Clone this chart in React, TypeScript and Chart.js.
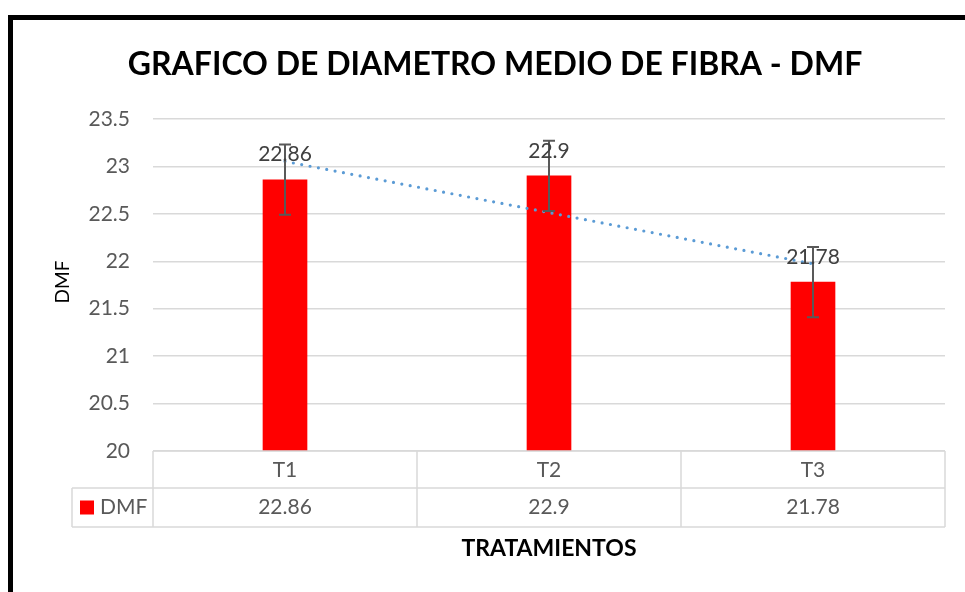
import React, { useEffect, useRef } from 'react';
import { Chart, registerables } from 'chart.js';

Chart.register(...registerables);

const chartTitle = 'GRAFICO DE DIAMETRO MEDIO DE FIBRA - DMF';
const xAxisTitle = 'TRATAMIENTOS';
const yAxisTitle = 'DMF';
const seriesName = 'DMF';
const categories = ['T1', 'T2', 'T3'];
const dmfValues = [22.86, 22.9, 21.78];
const errorMargins = [0.37, 0.37, 0.37];
const yMin = 20;
const yMax = 23.5;
const yStep = 0.5;

const FONT = 'Lato, "Open Sans", sans-serif';

function linearTrend(vals: number[]): number[] {
  const n = vals.length;
  const xs = vals.map((_, i) => i + 1);
  const mx = xs.reduce((a, b) => a + b, 0) / n;
  const my = vals.reduce((a, b) => a + b, 0) / n;
  let num = 0;
  let den = 0;
  for (let i = 0; i < n; i++) {
    num += (xs[i] - mx) * (vals[i] - my);
    den += (xs[i] - mx) * (xs[i] - mx);
  }
  const slope = num / den;
  return xs.map((xv) => my + slope * (xv - mx));
}

export default function App() {
  const ref = useRef<HTMLCanvasElement>(null);

  useEffect(() => {
    document.body.style.margin = '0';
    const canvas = ref.current;
    if (!canvas) return;
    const trend = linearTrend(dmfValues);

    const overlay = {
      id: 'excelOverlay',
      beforeDraw(chart: any) {
        const { ctx, width, height } = chart;
        ctx.save();
        ctx.fillStyle = '#ffffff';
        ctx.fillRect(0, 0, width, height);
        ctx.restore();
      },
      afterDatasetsDraw(chart: any) {
        const { ctx } = chart;
        const x = chart.scales.x;
        const y = chart.scales.y;
        const meta = chart.getDatasetMeta(0);
        ctx.save();
        // error bars
        ctx.strokeStyle = '#595959';
        ctx.lineWidth = 2;
        dmfValues.forEach((v, i) => {
          const cx = x.getPixelForValue(i);
          const yt = y.getPixelForValue(v + errorMargins[i]);
          const yb = y.getPixelForValue(v - errorMargins[i]);
          ctx.beginPath();
          ctx.moveTo(cx, yt);
          ctx.lineTo(cx, yb);
          ctx.moveTo(cx - 6, yt);
          ctx.lineTo(cx + 6, yt);
          ctx.moveTo(cx - 6, yb);
          ctx.lineTo(cx + 6, yb);
          ctx.stroke();
        });
        // data labels
        ctx.fillStyle = '#404040';
        ctx.font = `21px ${FONT}`;
        ctx.textAlign = 'center';
        ctx.textBaseline = 'middle';
        dmfValues.forEach((v, i) => {
          const el = meta.data[i];
          ctx.fillText(String(v), el.x, el.y - 25);
        });
        ctx.restore();
      },
      afterDraw(chart: any) {
        const { ctx, chartArea } = chart;
        const x = chart.scales.x;
        const { left, right, bottom, top } = chartArea;
        const catW = (right - left) / categories.length;
        const row1 = bottom + 37;
        const row2 = row1 + 39;
        const legLeft = left - 81;
        ctx.save();
        // data table
        ctx.strokeStyle = '#d9d9d9';
        ctx.lineWidth = 1.5;
        ctx.beginPath();
        ctx.moveTo(left, bottom);
        ctx.lineTo(right, bottom);
        ctx.moveTo(legLeft, row1);
        ctx.lineTo(right, row1);
        ctx.moveTo(legLeft, row2);
        ctx.lineTo(right, row2);
        ctx.moveTo(legLeft, row1);
        ctx.lineTo(legLeft, row2);
        for (let i = 0; i <= categories.length; i++) {
          const lx = left + catW * i;
          ctx.moveTo(lx, bottom);
          ctx.lineTo(lx, row2);
        }
        ctx.stroke();
        ctx.fillStyle = '#595959';
        ctx.font = `21px ${FONT}`;
        ctx.textAlign = 'center';
        ctx.textBaseline = 'middle';
        categories.forEach((c, i) => {
          const cx = x.getPixelForValue(i);
          ctx.fillText(c, cx, (bottom + row1) / 2 + 1);
          ctx.fillText(String(dmfValues[i]), cx, (row1 + row2) / 2);
        });
        // legend key
        ctx.fillStyle = '#ff0000';
        ctx.fillRect(legLeft + 8, (row1 + row2) / 2 - 7, 14, 14);
        ctx.fillStyle = '#595959';
        ctx.textAlign = 'left';
        ctx.fillText(seriesName, legLeft + 28, (row1 + row2) / 2);
        // axis titles
        ctx.fillStyle = '#000000';
        ctx.font = `bold 23px ${FONT}`;
        ctx.textAlign = 'center';
        ctx.fillText(xAxisTitle, (left + right) / 2, row2 + 22);
        ctx.save();
        ctx.translate(63, (top + bottom) / 2 - 3);
        ctx.rotate(-Math.PI / 2);
        ctx.font = `19px ${FONT}`;
        ctx.fillText(yAxisTitle, 0, 0);
        ctx.restore();
        // chart title
        ctx.font = `bold 32px ${FONT}`;
        ctx.fillText(chartTitle, 495, 65);
        // outer border
        ctx.fillStyle = '#000000';
        ctx.fillRect(8, 15, chart.width - 8, 5);
        ctx.fillRect(8, 15, 5, chart.height - 15);
        ctx.restore();
      },
    };

    const chart = new Chart(canvas, {
      type: 'bar',
      data: {
        labels: categories,
        datasets: [
          {
            type: 'bar',
            label: seriesName,
            data: dmfValues,
            backgroundColor: '#ff0000',
            borderWidth: 0,
            barThickness: 44,
            order: 2,
          } as any,
          {
            type: 'line',
            label: 'Lineal (DMF)',
            data: trend,
            borderColor: '#5b9bd5',
            borderWidth: 3.2,
            borderDash: [0, 8.5],
            borderCapStyle: 'round',
            pointRadius: 0,
            fill: false,
            tension: 0,
            order: 1,
          } as any,
        ],
      },
      options: {
        responsive: false,
        animation: false,
        devicePixelRatio: 1,
        layout: { padding: { top: 119, right: 20, bottom: 141, left: 0 } },
        plugins: {
          legend: { display: false },
          title: { display: false },
          tooltip: { enabled: false },
        },
        scales: {
          x: {
            type: 'category',
            display: false,
            offset: true,
          },
          y: {
            min: yMin,
            max: yMax,
            ticks: {
              stepSize: yStep,
              padding: 23,
              color: '#595959',
              font: { family: FONT, size: 21 },
              callback: (v: any) => String(Number(v)),
            },
            grid: { color: '#d9d9d9', lineWidth: 1.5, drawTicks: false },
            border: { display: false },
            afterFit(scale: any) {
              scale.width = 153;
            },
          },
        },
      },
      plugins: [overlay],
    } as any);

    return () => chart.destroy();
  }, []);

  return (
    <div style={{ width: 965, height: 592, background: '#ffffff' }}>
      <canvas ref={ref} width={965} height={592} style={{ display: 'block', width: 965, height: 592 }} />
    </div>
  );
}
